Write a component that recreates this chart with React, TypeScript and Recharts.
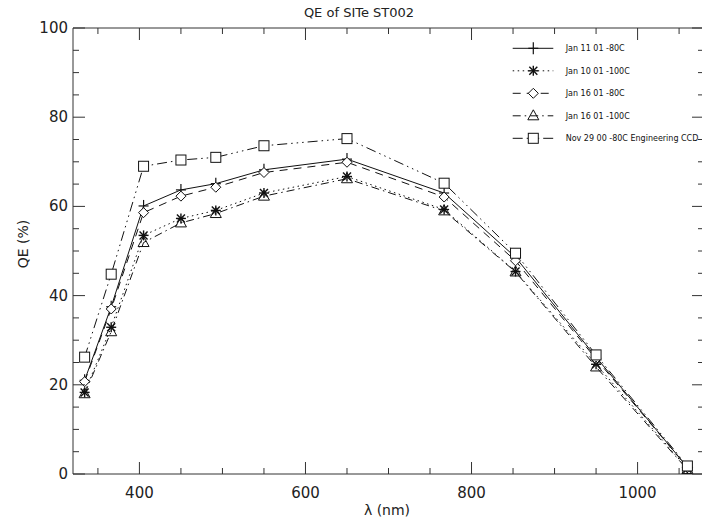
import React from 'react';
import { LineChart, Line, XAxis, YAxis, Legend } from 'recharts';

const wavelengths = [334, 366, 405, 450, 492, 550, 650, 767, 853, 950, 1060];
const jan11_80 = [21.0, 37.5, 60.1, 63.7, 65.1, 68.2, 70.6, 63.0, 48.6, 26.2, 1.5];
const jan10_100 = [18.3, 32.9, 53.5, 57.3, 59.1, 63.0, 66.7, 59.3, 45.4, 24.6, 1.2];
const jan16_80 = [20.7, 37.0, 58.6, 62.3, 64.3, 67.6, 69.9, 62.1, 47.8, 25.8, 1.5];
const jan16_100 = [18.0, 31.9, 51.9, 56.3, 58.4, 62.3, 66.2, 59.0, 45.3, 24.0, 1.0];
const nov29_80 = [26.2, 44.8, 69.0, 70.4, 71.0, 73.6, 75.2, 65.2, 49.5, 26.7, 1.8];

const xTicks = [350, 400, 450, 500, 550, 600, 650, 700, 750, 800, 850, 900, 950, 1000, 1050];
const yTicks = [0, 5, 10, 15, 20, 25, 30, 35, 40, 45, 50, 55, 60, 65, 70, 75, 80, 85, 90, 95, 100];

const data = wavelengths.map((w, i) => ({
  w,
  a: jan11_80[i],
  b: jan10_100[i],
  c: jan16_80[i],
  d: jan16_100[i],
  e: nov29_80[i],
}));

const INK = '#111';
const AXIS = '#333';
const FONT = 'DejaVu Sans, sans-serif';

type MarkerKind = 'plus' | 'asterisk' | 'diamond' | 'triangle' | 'square';

const Marker = ({ kind, cx, cy }: { kind: MarkerKind; cx: number; cy: number }) => {
  const s = 5;
  if (kind === 'plus') {
    return (
      <g stroke={INK} strokeWidth={1.2}>
        <line x1={cx - s} x2={cx + s} y1={cy} y2={cy} />
        <line x1={cx} x2={cx} y1={cy - s - 1} y2={cy + s + 1} />
      </g>
    );
  }
  if (kind === 'asterisk') {
    const d = s * 0.8;
    return (
      <g stroke={INK} strokeWidth={1.4}>
        <line x1={cx - s} x2={cx + s} y1={cy} y2={cy} />
        <line x1={cx} x2={cx} y1={cy - s} y2={cy + s} />
        <line x1={cx - d} x2={cx + d} y1={cy - d} y2={cy + d} />
        <line x1={cx - d} x2={cx + d} y1={cy + d} y2={cy - d} />
      </g>
    );
  }
  if (kind === 'diamond') {
    return (
      <polygon
        points={`${cx},${cy - s} ${cx + s},${cy} ${cx},${cy + s} ${cx - s},${cy}`}
        fill="white"
        stroke={INK}
        strokeWidth={1}
      />
    );
  }
  if (kind === 'triangle') {
    return (
      <polygon
        points={`${cx},${cy - s - 1} ${cx + s + 0.5},${cy + s - 1} ${cx - s - 0.5},${cy + s - 1}`}
        fill="none"
        stroke={INK}
        strokeWidth={1}
      />
    );
  }
  return <rect x={cx - s} y={cy - s} width={2 * s} height={2 * s} fill="white" stroke={INK} strokeWidth={1} />;
};

const series: { key: string; name: string; dash: string | undefined; marker: MarkerKind }[] = [
  { key: 'a', name: 'Jan 11 01 -80C', dash: undefined, marker: 'plus' },
  { key: 'b', name: 'Jan 10 01 -100C', dash: '1.5 3.5', marker: 'asterisk' },
  { key: 'c', name: 'Jan 16 01 -80C', dash: '8 6', marker: 'diamond' },
  { key: 'd', name: 'Jan 16 01 -100C', dash: '8 4 1.5 4', marker: 'triangle' },
  { key: 'e', name: 'Nov 29 00 -80C Engineering CCD', dash: '10 4 1.5 4 1.5 4 1.5 4', marker: 'square' },
];

const BottomTick = (props: any) => {
  const { x, y, payload } = props;
  const major = payload.value % 200 === 0;
  return (
    <g>
      <line x1={x} x2={x} y1={y} y2={y - (major ? 12 : 6)} stroke={AXIS} strokeWidth={1} />
      {major && (
        <text x={x} y={y + 24} textAnchor="middle" fontFamily={FONT} fontSize={15} fill="#222">
          {payload.value}
        </text>
      )}
    </g>
  );
};

const TopTick = (props: any) => {
  const { x, y, payload } = props;
  const major = payload.value % 200 === 0;
  return <line x1={x} x2={x} y1={y} y2={y + (major ? 12 : 6)} stroke={AXIS} strokeWidth={1} />;
};

const LeftTick = (props: any) => {
  const { x, y, payload } = props;
  const major = payload.value % 20 === 0;
  return (
    <g>
      <line x1={x} x2={x + (major ? 12 : 6)} y1={y} y2={y} stroke={AXIS} strokeWidth={1} />
      {major && (
        <text x={x - 5} y={y + 5} textAnchor="end" fontFamily={FONT} fontSize={15} fill="#222">
          {payload.value}
        </text>
      )}
    </g>
  );
};

const RightTick = (props: any) => {
  const { x, y, payload } = props;
  const major = payload.value % 20 === 0;
  return <line x1={x} x2={x - (major ? 12 : 6)} y1={y} y2={y} stroke={AXIS} strokeWidth={1} />;
};

const LegendBox = () => (
  <svg width={200} height={115} style={{ overflow: 'visible', display: 'block' }}>
    {series.map((s, i) => {
      const y = 10.3 + i * 22.5;
      return (
        <g key={s.key}>
          <line x1={7.7} x2={48.3} y1={y} y2={y} stroke={INK} strokeWidth={1} strokeDasharray={s.dash} />
          <Marker kind={s.marker} cx={28.3} cy={y} />
          <text x={60.7} y={y + 3} fontFamily={FONT} fontSize={8} fill="#111">
            {s.name}
          </text>
        </g>
      );
    })}
  </svg>
);

export default function App() {
  return (
    <div
      style={{
        position: 'fixed',
        left: 0,
        top: 0,
        width: 702,
        height: 527,
        overflow: 'hidden',
        background: 'white',
      }}
    >
      <LineChart width={706} height={527} data={data} margin={{ top: 27, right: 1, bottom: 52, left: 72 }}>
        <XAxis
          xAxisId="bottom"
          dataKey="w"
          type="number"
          domain={[320, 1080]}
          ticks={xTicks}
          interval={0}
          allowDataOverflow
          height={1}
          tickSize={0}
          tickMargin={0}
          tickLine={false}
          tick={<BottomTick />}
          axisLine={{ stroke: AXIS }}
        />
        <XAxis
          xAxisId="top"
          orientation="top"
          dataKey="w"
          type="number"
          domain={[320, 1080]}
          ticks={xTicks}
          interval={0}
          allowDataOverflow
          height={1}
          tickSize={0}
          tickMargin={0}
          tickLine={false}
          tick={<TopTick />}
          axisLine={{ stroke: AXIS }}
        />
        <YAxis
          yAxisId="left"
          type="number"
          domain={[0, 100]}
          ticks={yTicks}
          interval={0}
          allowDataOverflow
          width={1}
          tickSize={0}
          tickMargin={0}
          tickLine={false}
          tick={<LeftTick />}
          axisLine={{ stroke: AXIS }}
        />
        <YAxis
          yAxisId="right"
          orientation="right"
          type="number"
          domain={[0, 100]}
          ticks={yTicks}
          interval={0}
          allowDataOverflow
          width={1}
          tickSize={0}
          tickMargin={0}
          tickLine={false}
          tick={<RightTick />}
          axisLine={{ stroke: AXIS }}
        />
        <Line
          xAxisId="top"
          yAxisId="right"
          dataKey="a"
          stroke="none"
          dot={false}
          activeDot={false}
          legendType="none"
          isAnimationActive={false}
        />
        {series.map((s) => (
          <Line
            key={s.key}
            xAxisId="bottom"
            yAxisId="left"
            dataKey={s.key}
            name={s.name}
            type="linear"
            stroke={INK}
            strokeWidth={1}
            strokeDasharray={s.dash}
            dot={(p: any) => <Marker key={`${s.key}-${p.index}`} kind={s.marker} cx={p.cx} cy={p.cy} />}
            activeDot={false}
            isAnimationActive={false}
          />
        ))}
        <Legend
          layout="vertical"
          align="center"
          verticalAlign="middle"
          content={() => <LegendBox />}
          wrapperStyle={{ position: 'absolute', left: 505, top: 38, width: 200, height: 115 }}
        />
        <text x={359} y={17} textAnchor="middle" fontFamily={FONT} fontSize={13} fill="#222">
          QE of SITe ST002
        </text>
        <text x={387} y={515} textAnchor="middle" fontFamily={FONT} fontSize={14} fill="#222">
          λ (nm)
        </text>
        <text
          x={23}
          y={244}
          textAnchor="middle"
          dominantBaseline="central"
          fontFamily={FONT}
          fontSize={14}
          fill="#222"
          transform="rotate(-90 23 244)"
        >
          QE (%)
        </text>
      </LineChart>
    </div>
  );
}
